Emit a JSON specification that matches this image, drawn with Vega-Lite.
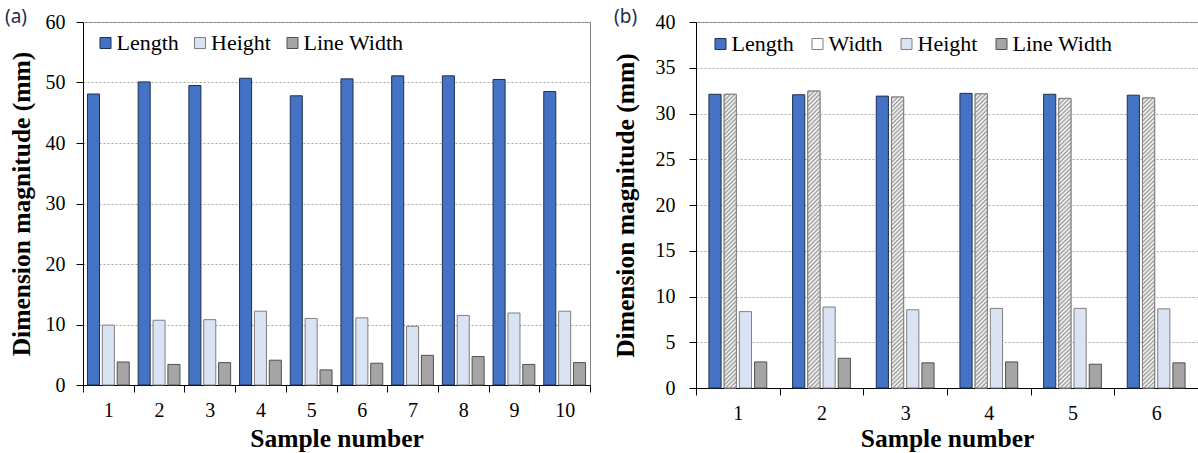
{
  "$schema": "https://vega.github.io/schema/vega-lite/v6.json",
  "background": "white",
  "padding": {"left": 4, "top": 7, "right": 0, "bottom": 0},
  "spacing": 21,
  "resolve": {"scale": {"color": "independent", "xOffset": "independent", "stroke": "independent", "x": "independent", "y": "independent"}, "legend": {"color": "independent"}},
  "config": {
    "font": "Liberation Serif",
    "view": {"stroke": "#808080", "strokeWidth": 1},
    "style": {"guide-label": {"font": "Liberation Serif", "fill": "#000"}, "guide-title": {"font": "Liberation Serif", "fill": "#000"}},
    "title": {"anchor": "start", "frame": "bounds", "font": "Noto Sans", "fontSize": 19, "fontWeight": "normal", "color": "#1f2d50", "offset": -15}
  },
  "datasets": {
    "a": [
      {"sample": 1, "series": "Length", "value": 48.1}, {"sample": 2, "series": "Length", "value": 50.1}, {"sample": 3, "series": "Length", "value": 49.5}, {"sample": 4, "series": "Length", "value": 50.7}, {"sample": 5, "series": "Length", "value": 47.8},
      {"sample": 6, "series": "Length", "value": 50.6}, {"sample": 7, "series": "Length", "value": 51.1}, {"sample": 8, "series": "Length", "value": 51.1}, {"sample": 9, "series": "Length", "value": 50.5}, {"sample": 10, "series": "Length", "value": 48.5},
      {"sample": 1, "series": "Height", "value": 9.9}, {"sample": 2, "series": "Height", "value": 10.7}, {"sample": 3, "series": "Height", "value": 10.8}, {"sample": 4, "series": "Height", "value": 12.2}, {"sample": 5, "series": "Height", "value": 11.0},
      {"sample": 6, "series": "Height", "value": 11.1}, {"sample": 7, "series": "Height", "value": 9.7}, {"sample": 8, "series": "Height", "value": 11.5}, {"sample": 9, "series": "Height", "value": 11.9}, {"sample": 10, "series": "Height", "value": 12.2},
      {"sample": 1, "series": "Line Width", "value": 3.8}, {"sample": 2, "series": "Line Width", "value": 3.4}, {"sample": 3, "series": "Line Width", "value": 3.7}, {"sample": 4, "series": "Line Width", "value": 4.1}, {"sample": 5, "series": "Line Width", "value": 2.5},
      {"sample": 6, "series": "Line Width", "value": 3.6}, {"sample": 7, "series": "Line Width", "value": 4.9}, {"sample": 8, "series": "Line Width", "value": 4.7}, {"sample": 9, "series": "Line Width", "value": 3.4}, {"sample": 10, "series": "Line Width", "value": 3.7}
    ],
    "b": [
      {"sample": 1, "series": "Length", "value": 32.1}, {"sample": 2, "series": "Length", "value": 32.05}, {"sample": 3, "series": "Length", "value": 31.9}, {"sample": 4, "series": "Length", "value": 32.2}, {"sample": 5, "series": "Length", "value": 32.1}, {"sample": 6, "series": "Length", "value": 32.0},
      {"sample": 1, "series": "Width", "value": 32.1}, {"sample": 2, "series": "Width", "value": 32.45}, {"sample": 3, "series": "Width", "value": 31.8}, {"sample": 4, "series": "Width", "value": 32.15}, {"sample": 5, "series": "Width", "value": 31.65}, {"sample": 6, "series": "Width", "value": 31.7},
      {"sample": 1, "series": "Height", "value": 8.35}, {"sample": 2, "series": "Height", "value": 8.85}, {"sample": 3, "series": "Height", "value": 8.55}, {"sample": 4, "series": "Height", "value": 8.7}, {"sample": 5, "series": "Height", "value": 8.7}, {"sample": 6, "series": "Height", "value": 8.65},
      {"sample": 1, "series": "Line Width", "value": 2.85}, {"sample": 2, "series": "Line Width", "value": 3.25}, {"sample": 3, "series": "Line Width", "value": 2.75}, {"sample": 4, "series": "Line Width", "value": 2.85}, {"sample": 5, "series": "Line Width", "value": 2.6}, {"sample": 6, "series": "Line Width", "value": 2.75}
    ]
  },
  "hconcat": [
    {
      "width": 507,
      "height": 363,
      "title": {"text": "(a)", "dx": -4},
      "data": {"name": "a"},
      "mark": {"type": "bar", "strokeWidth": 1},
      "encoding": {
        "x": {"field": "sample", "type": "ordinal", "scale": {"paddingInner": 0, "paddingOuter": 0},
          "axis": {"title": "Sample number", "grid": false, "labelAngle": 0, "tickBand": "extent", "labelPadding": 8, "titlePadding": 6, "labelFont": "Liberation Serif", "labelFontSize": 20, "labelColor": "#000", "titleFont": "Liberation Serif", "titleFontSize": 25.5, "titleFontWeight": "bold", "titleColor": "#000", "domainColor": "#000", "tickColor": "#000", "tickSize": 7}},
        "xOffset": {"field": "series", "type": "nominal", "sort": ["Length", "Height", "Line Width"], "scale": {"domain": ["Length", "Height", "Line Width"], "paddingInner": 0.19, "paddingOuter": 0.3}},
        "y": {"field": "value", "type": "quantitative", "scale": {"domain": [0, 60]},
          "axis": {"title": "Dimension magnitude (mm)", "values": [0, 10, 20, 30, 40, 50, 60], "gridDash": [2, 2], "gridColor": "#a6a6a6", "labelPadding": 11, "titlePadding": 11, "labelFont": "Liberation Serif", "labelFontSize": 20, "labelColor": "#000", "titleFont": "Liberation Serif", "titleFontSize": 25.5, "titleFontWeight": "bold", "titleColor": "#000", "domainColor": "#000", "tickColor": "#000", "tickSize": 7}},
        "color": {"field": "series", "type": "nominal", "scale": {"domain": ["Length", "Height", "Line Width"], "range": ["#4472C4", "#DAE3F3", "#A5A5A5"]},
          "legend": {"orient": "top-left", "offset": 9.5, "symbolOffset": 1.5, "direction": "horizontal", "title": null, "labelFont": "Liberation Serif", "labelFontSize": 22, "labelColor": "#000", "symbolType": "square", "symbolSize": 121, "symbolStrokeColor": "#404040", "symbolStrokeWidth": 1, "labelOffset": 0, "columnPadding": 8.5, "padding": 0}},
        "stroke": {"field": "series", "type": "nominal", "scale": {"domain": ["Length", "Height", "Line Width"], "range": ["#1f2f4f", "#7f7f7f", "#505050"]}, "legend": null}
      }
    },
    {
      "width": 502,
      "height": 366,
      "title": {"text": "(b)", "dx": 1},
      "data": {"name": "b"},
      "encoding": {
        "x": {"field": "sample", "type": "ordinal", "scale": {"paddingInner": 0, "paddingOuter": 0},
          "axis": {"title": "Sample number", "grid": false, "labelAngle": 0, "tickBand": "extent", "labelPadding": 8, "titlePadding": 3, "labelFont": "Liberation Serif", "labelFontSize": 20, "labelColor": "#000", "titleFont": "Liberation Serif", "titleFontSize": 25.5, "titleFontWeight": "bold", "titleColor": "#000", "domainColor": "#000", "tickColor": "#000", "tickSize": 7}},
        "xOffset": {"field": "series", "type": "nominal", "sort": ["Length", "Width", "Height", "Line Width"], "scale": {"domain": ["Length", "Width", "Height", "Line Width"], "paddingInner": 0.2, "paddingOuter": 0.85}},
        "y": {"field": "value", "type": "quantitative", "scale": {"domain": [0, 40]},
          "axis": {"title": "Dimension magnitude (mm)", "values": [0, 5, 10, 15, 20, 25, 30, 35, 40], "gridDash": [2, 2], "gridColor": "#a6a6a6", "labelPadding": 14, "titlePadding": 17, "labelFont": "Liberation Serif", "labelFontSize": 20, "labelColor": "#000", "titleFont": "Liberation Serif", "titleFontSize": 25.5, "titleFontWeight": "bold", "titleColor": "#000", "domainColor": "#000", "tickColor": "#000", "tickSize": 7}}
      },
      "layer": [
        {
          "mark": {"type": "bar", "strokeWidth": 1},
          "encoding": {
            "color": {"field": "series", "type": "nominal", "scale": {"domain": ["Length", "Width", "Height", "Line Width"], "range": ["#4472C4", "#ffffff", "#DAE3F3", "#A5A5A5"]},
              "legend": {"orient": "top-left", "offset": 10.5, "symbolOffset": 2.5, "direction": "horizontal", "title": null, "labelFont": "Liberation Serif", "labelFontSize": 22, "labelColor": "#000", "symbolType": "square", "symbolSize": 121, "symbolStrokeColor": "#404040", "symbolStrokeWidth": 1, "labelOffset": 0, "columnPadding": 10, "padding": 0,
                "encode": {"symbols": {"update": {"fill": [
                {"test": "datum.label === 'Width'", "value": {"gradient": "linear", "x1": 0, "y1": 0, "x2": 1, "y2": 1, "stops": [
                  {"offset": 0, "color": "#fff"}, {"offset": 0.1, "color": "#999"}, {"offset": 0.2, "color": "#fff"}, {"offset": 0.3, "color": "#999"}, {"offset": 0.4, "color": "#fff"}, {"offset": 0.5, "color": "#999"}, {"offset": 0.6, "color": "#fff"}, {"offset": 0.7, "color": "#999"}, {"offset": 0.8, "color": "#fff"}, {"offset": 0.9, "color": "#999"}, {"offset": 1, "color": "#fff"}]}},
                {"test": "datum.label === 'Length'", "value": "#4472C4"},
                {"test": "datum.label === 'Height'", "value": "#DAE3F3"},
                {"value": "#A5A5A5"}]}}}}},
            "stroke": {"field": "series", "type": "nominal", "scale": {"domain": ["Length", "Width", "Height", "Line Width"], "range": ["#1f2f4f", "#7f7f7f", "#7f7f7f", "#505050"]}, "legend": null}
          }
        },
        {
          "transform": [{"filter": "datum.series === 'Width'"}],
          "mark": {"type": "bar", "stroke": "#7f7f7f", "strokeWidth": 1, "fill": {"gradient": "linear", "x1": 0, "y1": 0, "x2": 0.0427, "y2": 1.039, "stops": [
            {"offset": 0, "color": "#fff"}, {"offset": 0.0069, "color": "#999"}, {"offset": 0.0139, "color": "#fff"}, {"offset": 0.0208, "color": "#999"}, {"offset": 0.0278, "color": "#fff"}, {"offset": 0.0347, "color": "#999"}, {"offset": 0.0417, "color": "#fff"}, {"offset": 0.0486, "color": "#999"}, {"offset": 0.0556, "color": "#fff"}, {"offset": 0.0625, "color": "#999"}, {"offset": 0.0694, "color": "#fff"}, {"offset": 0.0764, "color": "#999"}, {"offset": 0.0833, "color": "#fff"}, {"offset": 0.0903, "color": "#999"}, {"offset": 0.0972, "color": "#fff"}, {"offset": 0.1042, "color": "#999"}, {"offset": 0.1111, "color": "#fff"}, {"offset": 0.1181, "color": "#999"}, {"offset": 0.125, "color": "#fff"}, {"offset": 0.1319, "color": "#999"}, {"offset": 0.1389, "color": "#fff"}, {"offset": 0.1458, "color": "#999"}, {"offset": 0.1528, "color": "#fff"}, {"offset": 0.1597, "color": "#999"}, {"offset": 0.1667, "color": "#fff"}, {"offset": 0.1736, "color": "#999"}, {"offset": 0.1806, "color": "#fff"}, {"offset": 0.1875, "color": "#999"}, {"offset": 0.1944, "color": "#fff"}, {"offset": 0.2014, "color": "#999"}, {"offset": 0.2083, "color": "#fff"}, {"offset": 0.2153, "color": "#999"}, {"offset": 0.2222, "color": "#fff"}, {"offset": 0.2292, "color": "#999"}, {"offset": 0.2361, "color": "#fff"}, {"offset": 0.2431, "color": "#999"},
            {"offset": 0.25, "color": "#fff"}, {"offset": 0.2569, "color": "#999"}, {"offset": 0.2639, "color": "#fff"}, {"offset": 0.2708, "color": "#999"}, {"offset": 0.2778, "color": "#fff"}, {"offset": 0.2847, "color": "#999"}, {"offset": 0.2917, "color": "#fff"}, {"offset": 0.2986, "color": "#999"}, {"offset": 0.3056, "color": "#fff"}, {"offset": 0.3125, "color": "#999"}, {"offset": 0.3194, "color": "#fff"}, {"offset": 0.3264, "color": "#999"}, {"offset": 0.3333, "color": "#fff"}, {"offset": 0.3403, "color": "#999"}, {"offset": 0.3472, "color": "#fff"}, {"offset": 0.3542, "color": "#999"}, {"offset": 0.3611, "color": "#fff"}, {"offset": 0.3681, "color": "#999"}, {"offset": 0.375, "color": "#fff"}, {"offset": 0.3819, "color": "#999"}, {"offset": 0.3889, "color": "#fff"}, {"offset": 0.3958, "color": "#999"}, {"offset": 0.4028, "color": "#fff"}, {"offset": 0.4097, "color": "#999"}, {"offset": 0.4167, "color": "#fff"}, {"offset": 0.4236, "color": "#999"}, {"offset": 0.4306, "color": "#fff"}, {"offset": 0.4375, "color": "#999"}, {"offset": 0.4444, "color": "#fff"}, {"offset": 0.4514, "color": "#999"}, {"offset": 0.4583, "color": "#fff"}, {"offset": 0.4653, "color": "#999"}, {"offset": 0.4722, "color": "#fff"}, {"offset": 0.4792, "color": "#999"}, {"offset": 0.4861, "color": "#fff"}, {"offset": 0.4931, "color": "#999"},
            {"offset": 0.5, "color": "#fff"}, {"offset": 0.5069, "color": "#999"}, {"offset": 0.5139, "color": "#fff"}, {"offset": 0.5208, "color": "#999"}, {"offset": 0.5278, "color": "#fff"}, {"offset": 0.5347, "color": "#999"}, {"offset": 0.5417, "color": "#fff"}, {"offset": 0.5486, "color": "#999"}, {"offset": 0.5556, "color": "#fff"}, {"offset": 0.5625, "color": "#999"}, {"offset": 0.5694, "color": "#fff"}, {"offset": 0.5764, "color": "#999"}, {"offset": 0.5833, "color": "#fff"}, {"offset": 0.5903, "color": "#999"}, {"offset": 0.5972, "color": "#fff"}, {"offset": 0.6042, "color": "#999"}, {"offset": 0.6111, "color": "#fff"}, {"offset": 0.6181, "color": "#999"}, {"offset": 0.625, "color": "#fff"}, {"offset": 0.6319, "color": "#999"}, {"offset": 0.6389, "color": "#fff"}, {"offset": 0.6458, "color": "#999"}, {"offset": 0.6528, "color": "#fff"}, {"offset": 0.6597, "color": "#999"}, {"offset": 0.6667, "color": "#fff"}, {"offset": 0.6736, "color": "#999"}, {"offset": 0.6806, "color": "#fff"}, {"offset": 0.6875, "color": "#999"}, {"offset": 0.6944, "color": "#fff"}, {"offset": 0.7014, "color": "#999"}, {"offset": 0.7083, "color": "#fff"}, {"offset": 0.7153, "color": "#999"}, {"offset": 0.7222, "color": "#fff"}, {"offset": 0.7292, "color": "#999"}, {"offset": 0.7361, "color": "#fff"}, {"offset": 0.7431, "color": "#999"},
            {"offset": 0.75, "color": "#fff"}, {"offset": 0.7569, "color": "#999"}, {"offset": 0.7639, "color": "#fff"}, {"offset": 0.7708, "color": "#999"}, {"offset": 0.7778, "color": "#fff"}, {"offset": 0.7847, "color": "#999"}, {"offset": 0.7917, "color": "#fff"}, {"offset": 0.7986, "color": "#999"}, {"offset": 0.8056, "color": "#fff"}, {"offset": 0.8125, "color": "#999"}, {"offset": 0.8194, "color": "#fff"}, {"offset": 0.8264, "color": "#999"}, {"offset": 0.8333, "color": "#fff"}, {"offset": 0.8403, "color": "#999"}, {"offset": 0.8472, "color": "#fff"}, {"offset": 0.8542, "color": "#999"}, {"offset": 0.8611, "color": "#fff"}, {"offset": 0.8681, "color": "#999"}, {"offset": 0.875, "color": "#fff"}, {"offset": 0.8819, "color": "#999"}, {"offset": 0.8889, "color": "#fff"}, {"offset": 0.8958, "color": "#999"}, {"offset": 0.9028, "color": "#fff"}, {"offset": 0.9097, "color": "#999"}, {"offset": 0.9167, "color": "#fff"}, {"offset": 0.9236, "color": "#999"}, {"offset": 0.9306, "color": "#fff"}, {"offset": 0.9375, "color": "#999"}, {"offset": 0.9444, "color": "#fff"}, {"offset": 0.9514, "color": "#999"}, {"offset": 0.9583, "color": "#fff"}, {"offset": 0.9653, "color": "#999"}, {"offset": 0.9722, "color": "#fff"}, {"offset": 0.9792, "color": "#999"}, {"offset": 0.9861, "color": "#fff"}, {"offset": 0.9931, "color": "#999"}, {"offset": 1, "color": "#fff"}]}}
        }
      ]
    }
  ]
}
